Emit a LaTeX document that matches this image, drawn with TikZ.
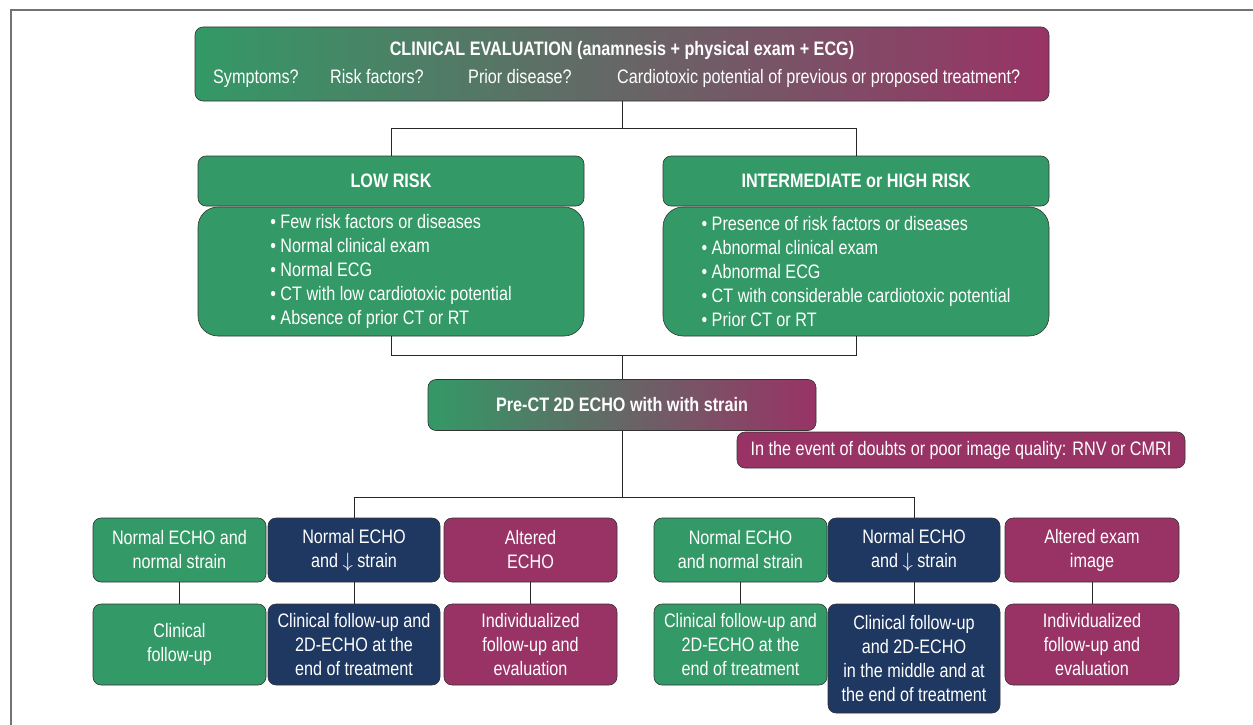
\documentclass[tikz,border=0pt]{standalone}
\usepackage{fontspec}
\setmainfont{Liberation Sans}[FakeStretch=0.83]
\usetikzlibrary{calc}
\definecolor{riskgreen}{RGB}{51,153,102}
\definecolor{risknavy}{RGB}{31,56,98}
\definecolor{riskred}{RGB}{153,51,102}
\tikzset{
  box/.style={draw=black!80, line width=0.6pt, rounded corners=8pt, text=white, align=center, inner sep=0pt, font=\fontsize{19.5}{24}\selectfont},
  greenbox/.style={box, fill=riskgreen},
  navybox/.style={box, fill=risknavy},
  redbox/.style={box, fill=riskred},
  fadebox/.style={box, left color=riskgreen, right color=riskred},
  listbox/.style={greenbox, rounded corners=20pt, align=left},
  lbl/.style={text=white, inner sep=0pt, font=\fontsize{19.5}{24}\selectfont},
  link/.style={draw=black!85, line width=0.8pt},
}

\begin{document}
\begin{tikzpicture}[x=1pt, y=-1pt]
		%%%%% START %%%%%
		\useasboundingbox (0, 0) rectangle (1253, 725);
		\draw[line width=2pt, color=black!55] (11, 725) -- (11, 10) -- (1253, 10);
		
		% clinical evaluation
		\node[fadebox, minimum width=854, minimum height=74] (top) at (622, 64) {};
		\node[lbl, font=\fontsize{19.5}{24}\selectfont\bfseries] (title) at (622, 50) {CLINICAL EVALUATION (anamnesis + physical exam + ECG)};
		\node[lbl, anchor=base west] (sym) at (213, 84) {Symptoms?};
		\node[lbl, anchor=base west] (riskf) at (330, 84) {Risk factors?};
		\node[lbl, anchor=base west] (prior) at (468, 84) {Prior disease?};
		\node[lbl, anchor=base west] (cardio) at (617, 84) {Cardiotoxic potential of previous or proposed treatment?};
		
		% risk groups
		\node[greenbox, minimum width=386, minimum height=50, font=\fontsize{19.5}{24}\selectfont\bfseries] (lowhead) at (391, 181) {LOW RISK};
		\node[listbox, minimum width=386, minimum height=129] (lowbody) at (391, 271.5) {%
			• Few risk factors or diseases\\
			• Normal clinical exam\\
			• Normal ECG\\
			• CT with low cardiotoxic potential\\
			• Absence of prior CT or RT};
		
		\node[greenbox, minimum width=386, minimum height=50, font=\fontsize{19.5}{24}\selectfont\bfseries] (highhead) at (856, 181) {INTERMEDIATE or HIGH RISK};
		\node[listbox, minimum width=386, minimum height=129] (highbody) at (856, 271.5) {%
			• Presence of risk factors or diseases\\
			• Abnormal clinical exam\\
			• Abnormal ECG\\
			• CT with considerable cardiotoxic potential\\
			• Prior CT or RT};
		
		% echo
		\node[fadebox, minimum width=388, minimum height=51, font=\fontsize{19.5}{24}\selectfont\bfseries] (echo) at (622, 405) {Pre-CT 2D ECHO with with strain};
		\node[redbox, minimum width=448, minimum height=36] (rnv) at (961, 450) {In the event of doubts or poor image quality: RNV or CMRI};
		
		% results
		\node[greenbox, minimum width=173, minimum height=64] (res1) at (179.5, 550) {Normal ECHO and\\normal strain};
		\node[navybox, minimum width=172, minimum height=64] (res2) at (354, 550) {Normal ECHO\\and $\downarrow$ strain};
		\node[redbox, minimum width=173, minimum height=64] (res3) at (530.5, 550) {Altered\\ECHO};
		\node[greenbox, minimum width=173, minimum height=64] (res4) at (740.5, 550) {Normal ECHO\\and normal strain};
		\node[navybox, minimum width=172, minimum height=64] (res5) at (914, 550) {Normal ECHO\\and $\downarrow$ strain};
		\node[redbox, minimum width=174, minimum height=64] (res6) at (1092, 550) {Altered exam\\image};
		
		% follow-up
		\node[greenbox, minimum width=173, minimum height=81] (fup1) at (179.5, 644.5) {Clinical\\follow-up};
		\node[navybox, minimum width=172, minimum height=81] (fup2) at (354, 644.5) {Clinical follow-up and\\2D-ECHO at the\\end of treatment};
		\node[redbox, minimum width=173, minimum height=81] (fup3) at (530.5, 644.5) {Individualized\\follow-up and\\evaluation};
		\node[greenbox, minimum width=173, minimum height=81] (fup4) at (740.5, 644.5) {Clinical follow-up and\\2D-ECHO at the\\end of treatment};
		\node[navybox, minimum width=172, minimum height=109] (fup5) at (914, 658.5) {Clinical follow-up\\and 2D-ECHO\\in the middle and at\\the end of treatment};
		\node[redbox, minimum width=174, minimum height=81] (fup6) at (1092, 644.5) {Individualized\\follow-up and\\evaluation};
		
		% connectors
		\coordinate (split1) at (622, 128);
		\draw[link] (top.south) -- (split1) -| (lowhead.north);
		\draw[link] (split1) -| (highhead.north);
		
		\coordinate (join1) at (622, 355);
		\draw[link] (lowbody.south) |- (join1) -- (echo.north);
		\draw[link] (highbody.south) |- (join1);
		
		\coordinate (split2) at (622, 497);
		\draw[link] (echo.south) -- (split2) -| (res2.north);
		\draw[link] (split2) -| (res5.north);
		
		\foreach \i in {1,...,6}
			\draw[link] (res\i.south) -- (res\i.south |- fup\i.north);
		
		%%%%% END %%%%%
	\end{tikzpicture}
\end{document}
